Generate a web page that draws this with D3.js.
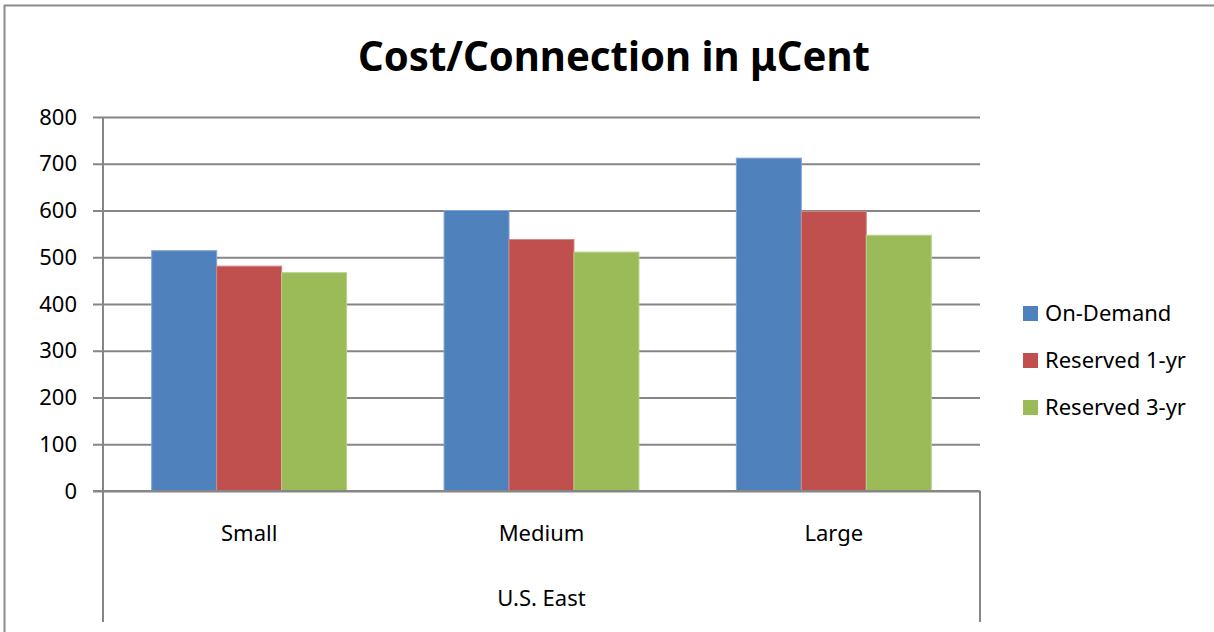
<!DOCTYPE html>
<html>
<head>
<meta charset="utf-8">
<script src="https://cdn.jsdelivr.net/npm/d3@7"></script>
<style>
  body { margin: 0; background: #fff; }
  svg { display: block; font-family: "Noto Sans", "Open Sans", sans-serif; }
</style>
</head>
<body>
<div id="chart"></div>
<script>
// chart data
const categories = ["Small", "Medium", "Large"];
const groupLabel = "U.S. East";
const seriesNames = ["On-Demand", "Reserved 1-yr", "Reserved 3-yr"];
const onDemand = [514, 600, 712];
const reserved1 = [481, 538, 598];
const reserved3 = [467, 511, 547];
const yTicks = [0, 100, 200, 300, 400, 500, 600, 700, 800];
const colors = ["#4F81BD", "#C0504D", "#9BBB59"];
const edgeColors = ["#7FA3D2", "#D58683", "#B8D08A"];

const seriesValues = [onDemand, reserved1, reserved3];

const W = 1214, H = 632;
const plot = { left: 103, right: 980, top: 117, bottom: 491 };
const axisColor = "#868686";

const svg = d3.select("#chart").append("svg")
    .attr("width", W)
    .attr("height", H);

// outer chart border (only top and left show in the frame)
svg.append("rect")
    .attr("x", 4.5).attr("y", 5.5)
    .attr("width", 1300).attr("height", 800)
    .attr("fill", "none")
    .attr("stroke", "#8c8c8c")
    .attr("stroke-width", 2);

// title
svg.append("text")
    .attr("x", 614)
    .attr("y", 71)
    .attr("text-anchor", "middle")
    .attr("textLength", 512)
    .attr("lengthAdjust", "spacingAndGlyphs")
    .style("font-size", "42px")
    .style("font-weight", "bold")
    .text("Cost/Connection in μCent");

// scales
const x = d3.scaleBand()
    .domain(categories)
    .range([plot.left, plot.right])
    .padding(0);

const y = d3.scaleLinear()
    .domain([0, 800])
    .range([plot.bottom, plot.top]);

// gridlines + y labels (axis anchored on the right so lines run to x=93)
const gy = svg.append("g")
    .attr("transform", `translate(${plot.right}, 0)`)
    .call(d3.axisLeft(y)
        .tickValues(yTicks)
        .tickSize(plot.right - plot.left + 10)
        .tickFormat(d3.format("d")));
gy.select(".domain").remove();
gy.selectAll(".tick line").attr("stroke", axisColor).attr("stroke-width", 2);
gy.selectAll(".tick text")
    .attr("x", -(plot.right - 77))
    .style("font-size", "22px")
    .style("font-family", "\"Noto Sans\", sans-serif")
    .attr("fill", "#000");

// bars: 3 bars take 3 / 4.5 of each category (gap width 150%)
const barW = x.bandwidth() / 4.5;
seriesValues.forEach((vals, si) => {
    svg.append("g")
        .selectAll("rect")
        .data(vals)
        .enter()
        .append("rect")
        .attr("x", (d, i) => x(categories[i]) + barW * 0.75 + si * barW)
        .attr("y", d => y(d))
        .attr("width", barW)
        .attr("height", d => y(0) - y(d))
        .attr("fill", colors[si])
        .attr("stroke", edgeColors[si])
        .attr("stroke-width", 1);
});

// axis lines
svg.append("line")
    .attr("x1", plot.left).attr("x2", plot.left)
    .attr("y1", plot.top).attr("y2", 622)
    .attr("stroke", axisColor).attr("stroke-width", 2);
svg.append("line")
    .attr("x1", plot.right).attr("x2", plot.right)
    .attr("y1", plot.bottom).attr("y2", 622)
    .attr("stroke", axisColor).attr("stroke-width", 2);
svg.append("line")
    .attr("x1", plot.left - 10).attr("x2", plot.right)
    .attr("y1", y(0)).attr("y2", y(0))
    .attr("stroke", axisColor).attr("stroke-width", 2);

// category labels
svg.append("g")
    .selectAll("text")
    .data(categories)
    .enter()
    .append("text")
    .attr("x", d => x(d) + x.bandwidth() / 2)
    .attr("y", 541)
    .attr("text-anchor", "middle")
    .style("font-size", "22px")
    .text(d => d);

svg.append("text")
    .attr("x", (plot.left + plot.right) / 2)
    .attr("y", 606)
    .attr("text-anchor", "middle")
    .style("font-size", "22px")
    .text(groupLabel);

// legend
const legend = svg.append("g");
seriesNames.forEach((name, i) => {
    const cy = 313.5 + i * 47;
    legend.append("rect")
        .attr("x", 1023)
        .attr("y", cy - 7.5)
        .attr("width", 15)
        .attr("height", 15)
        .attr("fill", colors[i]);
    legend.append("text")
        .attr("x", 1045)
        .attr("y", cy)
        .attr("dy", "0.35em")
        .style("font-size", "22px")
        .text(name);
});
</script>
</body>
</html>
